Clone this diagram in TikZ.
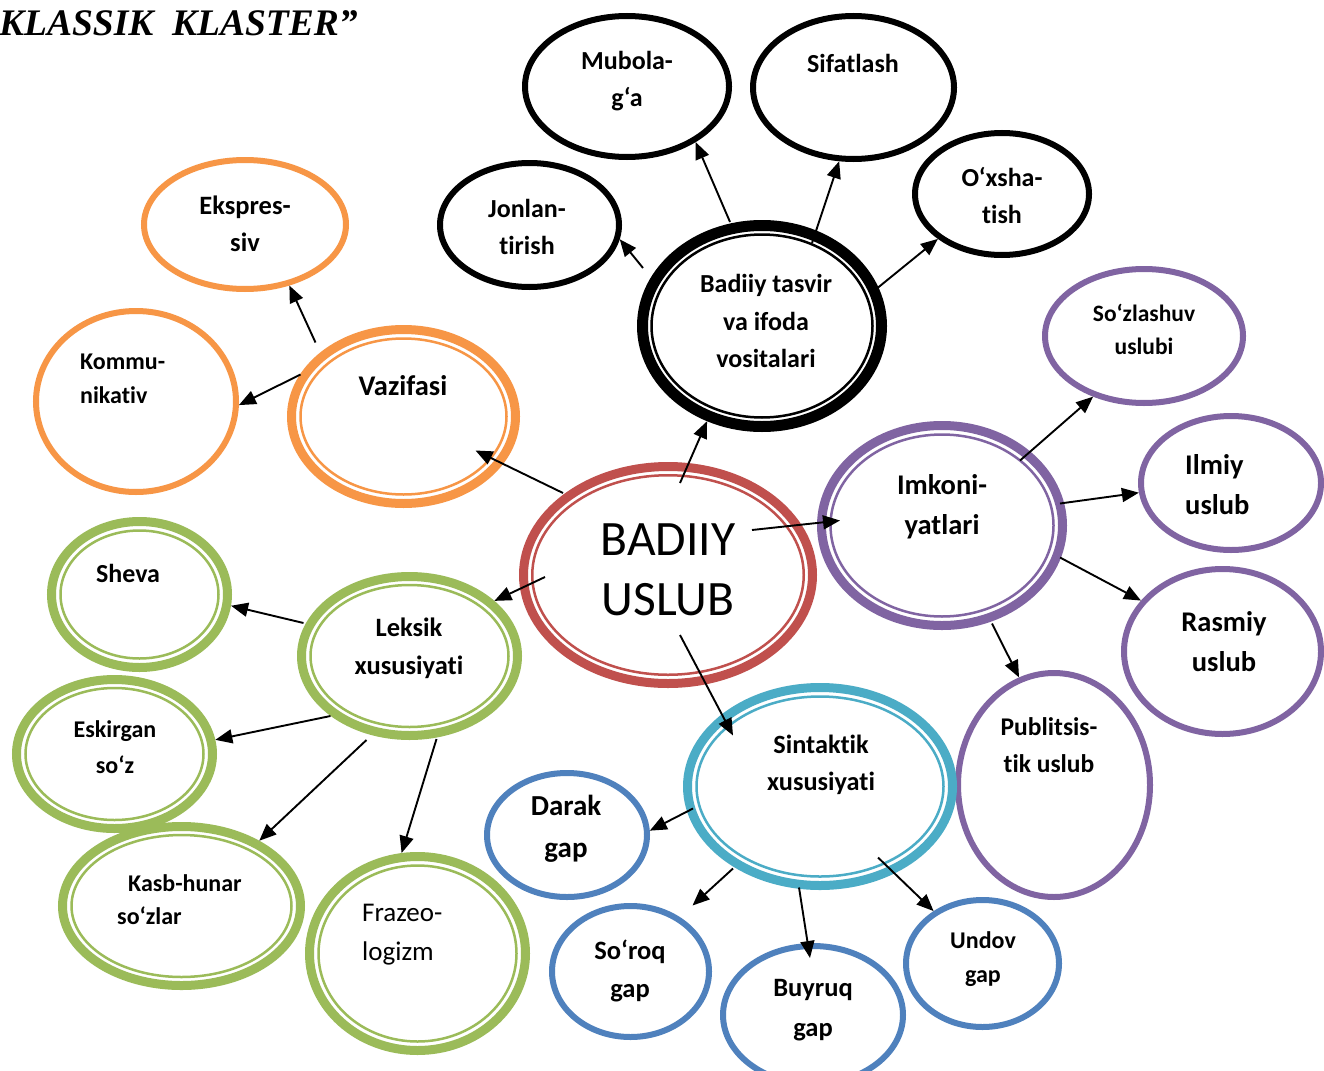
\documentclass[tikz,border=0pt]{standalone}
\usepackage{fontspec}
\setmainfont{Carlito}[Ligatures={NoCommon,NoContextual}]
\newfontfamily\titlefont{Liberation Serif}
\usetikzlibrary{shapes.geometric,arrows.meta}
\definecolor{cOr}{HTML}{F79646}
\definecolor{cGr}{HTML}{9BBB59}
\definecolor{cRd}{HTML}{C0504D}
\definecolor{cPu}{HTML}{8064A2}
\definecolor{cTe}{HTML}{4BACC6}
\definecolor{cBl}{HTML}{4F81BD}
\newcommand\fz[2]{\fontsize{#1}{#2}\selectfont}
\tikzset{
  sgl/.style={ellipse, draw, line width=6pt, inner sep=0pt},
  dbl/.style={ellipse, draw, line width=9pt, inner sep=0pt},
  inr/.style={line width=2.5pt},
  arr/.style={-{Triangle[length=17pt,width=14pt]}, line width=1.9pt, black},
  lbl/.style={align=center, inner sep=0pt, font=\bfseries},
  lbll/.style={align=left, inner sep=0pt, font=\bfseries, anchor=west},
}
\begin{document}
\begin{tikzpicture}[x=1pt,y=-1pt]
\fill[white] (0,0) rectangle (1324,1070);
\useasboundingbox (0,0) rectangle (1324,1070);

% title
\node[anchor=west, inner sep=0pt, font=\titlefont\bfseries\itshape\fz{37.5}{40}] (title) at (-1,23) {KLASSIK\ \ KLASTER”};

% ---- black group
\node[sgl, draw=black, minimum width=204pt, minimum height=141pt] (mub) at (627,86.5) {};
\node[sgl, draw=black, minimum width=201pt, minimum height=143pt] (sif) at (853.5,87.5) {};
\node[sgl, draw=black, minimum width=179pt, minimum height=124pt] (jon) at (529.5,225) {};
\node[sgl, draw=black, minimum width=174pt, minimum height=122pt] (oxs) at (1002,194) {};
\node[ellipse, draw=black, line width=11pt, inner sep=0pt, minimum width=239pt, minimum height=201pt] (bt) at (762,326) {};
\draw[inr, black] (bt.center) ellipse [x radius=110.5pt, y radius=91.5pt];

\node[lbl, font=\bfseries\fz{26}{37}] (mubT) at (627,81.5) {Mubola-\\g‘a};
\node[lbl, font=\bfseries\fz{26}{37}] (sifT) at (853,63) {Sifatlash};
\node[lbl, font=\bfseries\fz{26}{37}] (jonT) at (527,226.5) {Jonlan-\\tirish};
\node[lbl, font=\bfseries\fz{26}{37}] (oxsT) at (1002,195.5) {O‘xsha-\\tish};
\node[lbl, font=\bfseries\fz{26}{37.5}] (btT) at (766,321) {Badiiy tasvir\\va ifoda\\vositalari};

% ---- orange group
\node[sgl, draw=cOr, minimum width=202pt, minimum height=129pt] (eks) at (245,224.5) {};
\node[sgl, draw=cOr, minimum width=200pt, minimum height=181pt] (kom) at (136,401.5) {};
\node[dbl, draw=cOr, minimum width=224pt, minimum height=174pt] (vaz) at (403.5,416.5) {};
\draw[inr, cOr] (vaz.center) ellipse [x radius=103pt, y radius=78pt];

\node[lbl, font=\bfseries\fz{26.5}{37}] (eksT) at (245,223.5) {Ekspres-\\siv};
\node[lbll, font=\bfseries\fz{24}{34}] (komT) at (80,379) {Kommu-\\nikativ};
\node[lbl, font=\bfseries\fz{28.5}{37}] (vazT) at (403,386) {Vazifasi};

% ---- red centre
\node[dbl, draw=cRd, minimum width=289pt, minimum height=217pt] (bu) at (668,575) {};
\draw[inr, cRd] (bu.center) ellipse [x radius=135.75pt, y radius=99.75pt];
\node[lbl, font=\fz{49.5}{60}] (buT) at (668,570) {BADIIY\\USLUB};

% ---- purple group
\node[dbl, draw=cPu, minimum width=241pt, minimum height=200pt] (imk) at (942,525.5) {};
\draw[inr, cPu] (imk.center) ellipse [x radius=111.5pt, y radius=91pt];
\node[sgl, draw=cPu, minimum width=198pt, minimum height=134pt] (soz) at (1144,336) {};
\node[sgl, draw=cPu, minimum width=180pt, minimum height=134pt] (ilm) at (1231,483) {};
\node[sgl, draw=cPu, minimum width=197pt, minimum height=165pt] (ras) at (1222.5,651.5) {};
\node[sgl, draw=cPu, minimum width=192pt, minimum height=224pt] (pub) at (1054,785) {};

\node[lbl, font=\bfseries\fz{28.5}{40}] (imkT) at (942,507) {Imkoni-\\yatlari};
\node[lbl, font=\bfseries\fz{23.5}{33}] (sozT) at (1144,329.5) {So‘zlashuv\\uslubi};
\node[lbll, font=\bfseries\fz{28.5}{40}] (ilmT) at (1185,485) {Ilmiy\\uslub};
\node[lbl, font=\bfseries\fz{28.5}{40}] (rasT) at (1224,642) {Rasmiy\\uslub};
\node[lbl, font=\bfseries\fz{25.5}{37}] (pubT) at (1049,745.5) {Publitsis-\\tik uslub};

% ---- green group
\node[dbl, draw=cGr, minimum width=176pt, minimum height=146pt] (she) at (139.5,594.5) {};
\draw[inr, cGr] (she.center) ellipse [x radius=79pt, y radius=64pt];
\node[dbl, draw=cGr, minimum width=216pt, minimum height=159pt] (lek) at (409.5,656) {};
\draw[inr, cGr] (lek.center) ellipse [x radius=99pt, y radius=71pt];
\node[dbl, draw=cGr, minimum width=196pt, minimum height=149pt] (esk) at (114.5,754) {};
\draw[inr, cGr] (esk.center) ellipse [x radius=89pt, y radius=66pt];
\node[dbl, draw=cGr, minimum width=238pt, minimum height=159pt] (kas) at (181.5,906) {};
\draw[inr, cGr] (kas.center) ellipse [x radius=110pt, y radius=71pt];
\node[dbl, draw=cGr, minimum width=216pt, minimum height=194pt] (fra) at (417.5,953.5) {};
\draw[inr, cGr] (fra.center) ellipse [x radius=99pt, y radius=88pt];

\node[lbl, font=\bfseries\fz{26}{37}] (sheT) at (128,573) {Sheva};
\node[lbl, font=\bfseries\fz{26.5}{38}] (lekT) at (409,648) {Leksik\\xususiyati};
\node[lbl, font=\bfseries\fz{24}{36}] (eskT) at (115,747) {Eskirgan\\so‘z};
\node[lbll, font=\bfseries\fz{24}{33}] (kasT) at (117,900) {\hspace{11pt}Kasb-hunar\\so‘zlar};
\node[lbll, font=\fz{27}{39}] (fraT) at (362,934.5) {Frazeo-\\logizm};

% ---- teal / blue group
\node[dbl, draw=cTe, minimum width=265pt, minimum height=198pt] (sin) at (820,786.5) {};
\draw[inr, cTe] (sin.center) ellipse [x radius=123.5pt, y radius=90pt];
\node[sgl, draw=cBl, minimum width=160pt, minimum height=124pt] (dar) at (567,835) {};
\node[sgl, draw=cBl, minimum width=157pt, minimum height=131pt] (sor) at (630.5,971.5) {};
\node[sgl, draw=cBl, minimum width=180pt, minimum height=138pt] (buy) at (813,1015) {};
\node[sgl, draw=cBl, minimum width=153pt, minimum height=127pt] (und) at (982.5,963.5) {};

\node[lbl, font=\bfseries\fz{26.3}{37}] (sinT) at (821,764.5) {Sintaktik\\xususiyati};
\node[lbl, font=\bfseries\fz{29}{42}] (darT) at (566,829) {Darak\\gap};
\node[lbl, font=\bfseries\fz{26.5}{38}] (sorT) at (630,971) {So‘roq\\gap};
\node[lbl, font=\bfseries\fz{26.5}{40}] (buyT) at (813,1010) {Buyruq\\gap};
\node[lbl, font=\bfseries\fz{24}{34}] (undT) at (983,959) {Undov\\gap};

% ---- connectors
\draw[arr] ([shift={(-119,-58)}]bt.center) -- (jon.-9);
\draw[arr] ([shift={(-32,-104)}]bt.center) -- (mub.-39);
\draw[arr] ([shift={(50,-83)}]bt.center) -- (sif.-101);
\draw[arr] ([shift={(113,-36)}]bt.center) -- (oxs.-145);

\draw[arr] ([shift={(12,-92)}]bu.center) -- (bt.-120);
\draw[arr] ([shift={(-105,-82)}]bu.center) -- ([shift={(72,34)}]vaz.center);
\draw[arr] ([shift={(84,-45)}]bu.center) -- ([shift={(-102,-5)}]imk.center);
\draw[arr] ([shift={(-123,2)}]bu.center) -- (lek.33);
\draw[arr] ([shift={(12,60)}]bu.center) -- ([shift={(-87,-51)}]sin.center);

\draw[arr] ([shift={(-88,-74)}]vaz.center) -- (eks.-54);
\draw[arr] ([shift={(-103,-42)}]vaz.center) -- (kom.-2);

\draw[arr] ([shift={(78,-65)}]imk.center) -- (soz.-130);
\draw[arr] ([shift={(118,-22)}]imk.center) -- (ilm.186);
\draw[arr] ([shift={(118,32)}]imk.center) -- (ras.148);
\draw[arr] ([shift={(50,98)}]imk.center) -- (pub.108);

\draw[arr] ([shift={(-106,-33)}]lek.center) -- (she.-7);
\draw[arr] ([shift={(-79,60)}]lek.center) -- (esk.8);
\draw[arr] ([shift={(-43,84)}]lek.center) -- (kas.40);
\draw[arr] ([shift={(27,83)}]lek.center) -- (fra.99);

\draw[arr] ([shift={(-127,22)}]sin.center) -- (dar.3);
\draw[arr] ([shift={(-87,82)}]sin.center) -- ([shift={(62,-66)}]sor.center);
\draw[arr] ([shift={(-21,101)}]sin.center) -- ([shift={(-3,-57)}]buy.center);
\draw[arr] ([shift={(58,71)}]sin.center) -- (und.133);
\end{tikzpicture}
\end{document}
